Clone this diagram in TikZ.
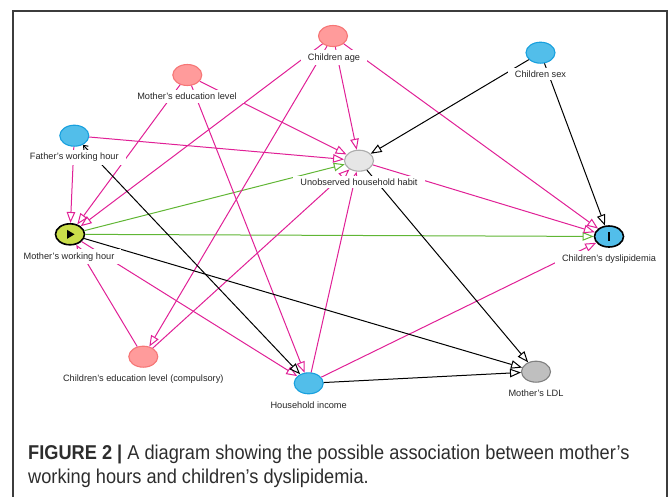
\documentclass[tikz,border=0pt]{standalone}
\usepackage{fontspec}
\setmainfont{Liberation Sans}
\newfontfamily\capfont[FakeStretch=0.91]{Liberation Sans}
\usepackage{tikz}
\usetikzlibrary{shapes.geometric,arrows.meta}

\definecolor{biaspink}{RGB}{224,32,150}
\definecolor{causegreen}{RGB}{96,182,52}
\definecolor{ancfill}{RGB}{255,155,155}
\definecolor{ancline}{RGB}{246,118,118}
\definecolor{outfill}{RGB}{82,190,234}
\definecolor{outline}{RGB}{24,160,222}
\definecolor{expfill}{RGB}{202,222,74}
\definecolor{hidfill}{RGB}{230,230,230}
\definecolor{hidline}{RGB}{172,172,172}
\definecolor{ldlfill}{RGB}{192,192,192}
\definecolor{ldlline}{RGB}{128,128,128}
\definecolor{framegray}{RGB}{60,60,60}
\definecolor{captext}{RGB}{45,45,45}

\begin{document}
\begin{tikzpicture}[x=1pt,y=-1pt,
    var/.style={ellipse, minimum width=29pt, minimum height=21pt, inner sep=0pt, line width=1.1pt},
    anc/.style={var, draw=ancline, fill=ancfill},
    outanc/.style={var, draw=outline, fill=outfill},
    expo/.style={var, draw=black, fill=expfill, line width=1.6pt},
    outc/.style={var, draw=black, fill=outfill, line width=1.6pt},
    hidden/.style={var, draw=hidline, fill=hidfill},
    other/.style={var, draw=ldlline, fill=ldlline!50!white},
    lbl/.style={fill=white, inner xsep=7pt, inner ysep=3pt, font=\fontsize{9.2}{10}\selectfont, text=black!85},
    tip/.style={-{Triangle[open,length=11pt,width=8.5pt]}},
    bias/.style={tip, draw=biaspink, line width=1pt},
    causal/.style={tip, draw=causegreen, line width=1pt},
    plain/.style={tip, draw=black, line width=1pt}]
  \useasboundingbox (0,0) rectangle (670,496);
  \draw[framegray, line width=1.3pt] (13,500) -- (13,11) -- (667,11) -- (667,500);

  % variables
  \node[anc] (age) at (333,36) {};
  \node[outanc] (sex) at (540.5,52.7) {};
  \node[anc] (medu) at (187.3,75) {};
  \node[outanc] (fwh) at (74.3,135.7) {};
  \node[hidden] (habit) at (359,160.7) {};
  \node[expo] (mwh) at (70,234.3) {};
  \node[outc] (dys) at (609,236.5) {};
  \node[anc] (cedu) at (143.3,356.7) {};
  \node[outanc] (income) at (308.7,383.3) {};
  \node[other] (ldl) at (536,371.7) {};
  \fill (mwh) ++(-3,-4.5) -- ++(7.5,4.5) -- ++(-7.5,4.5) -- cycle;
  \fill (dys) ++(-1.4,-4.5) rectangle ++(2.8,9);

  % edges
  \draw[causal] (mwh) -- (dys);
  \draw[causal] (mwh) -- (habit);
  \draw[bias] (age) -- (mwh);
  \draw[bias] (age) -- (cedu);
  \draw[bias] (age) -- (habit);
  \draw[bias] (age) -- (dys);
  \draw[bias] (medu) -- (mwh);
  \draw[bias] (medu) -- (income);
  \draw[bias] (medu) -- (habit);
  \draw[bias] (fwh) -- (mwh);
  \draw[bias] (fwh) -- (habit);
  \draw[bias] (mwh) -- (income);
  \draw[bias] (cedu) -- (mwh);
  \draw[bias] (cedu) -- (habit);
  \draw[bias] (income) -- (habit);
  \draw[bias] (income) -- (dys);
  \draw[bias] (habit) -- (dys);
  \draw[plain] (sex) -- (habit);
  \draw[plain] (sex) -- (dys);
  \draw[plain] (habit) -- (ldl);
  \draw[plain] (mwh) -- (ldl);
  \draw[plain] (income) -- (ldl);
  \draw[plain, {Straight Barb[length=4pt,width=6pt]}-{Triangle[open,length=11pt,width=8.5pt]}] (fwh) -- (income);

  % labels
  \node[lbl] (age-l) at (334,57.7) {Children age};
  \node[lbl] (sex-l) at (540.5,74) {Children sex};
  \node[lbl] (medu-l) at (187,96.7) {Mother's education level};
  \node[lbl] (fwh-l) at (74.3,157.3) {Father's working hour};
  \node[lbl] (habit-l) at (359,182) {Unobserved household habit};
  \node[lbl] (mwh-l) at (69,256.7) {Mother's working hour};
  \node[lbl] (dys-l) at (609,258.7) {Children's dyslipidemia};
  \node[lbl] (cedu-l) at (143.3,379) {Children's education level (compulsory)};
  \node[lbl] (income-l) at (308.7,405.7) {Household income};
  \node[lbl] (ldl-l) at (536,393.3) {Mother's LDL};

  % caption
  \node[anchor=base west, inner sep=0pt, text=captext, font=\capfont\fontsize{20}{24}\selectfont] (cap1) at (28,459)
    {\textbf{FIGURE 2 |} A diagram showing the possible association between mother’s};
  \node[anchor=base west, inner sep=0pt, text=captext, font=\capfont\fontsize{20}{24}\selectfont] (cap2) at (28,483.5)
    {working hours and children’s dyslipidemia.};
\end{tikzpicture}
\end{document}
